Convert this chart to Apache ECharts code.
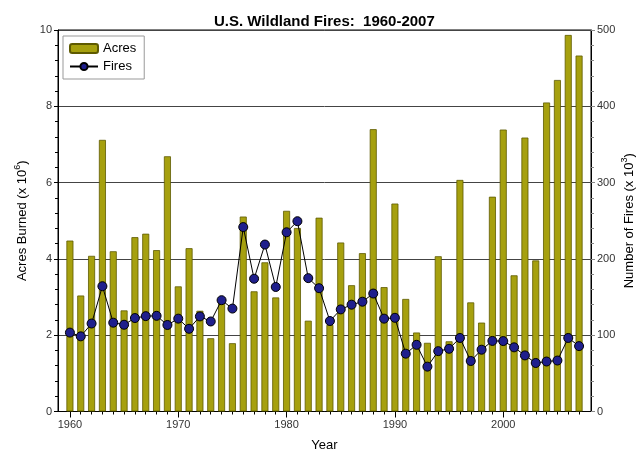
<!DOCTYPE html>
<html>
<head>
<meta charset="utf-8">
<script src="https://cdn.jsdelivr.net/npm/echarts@6/dist/echarts.min.js"></script>
<style>
  html, body { margin: 0; padding: 0; background: #fff; }
  #chart { width: 639px; height: 449px; }
</style>
</head>
<body>
<div id="chart"></div>
<script>
var years = [];
for (var y = 1960; y <= 2007; y++) years.push(y);

// acres burned, millions
var acres = [4.48, 3.04, 4.08, 7.12, 4.20, 2.65, 4.57, 4.66, 4.23, 6.69,
             3.28, 4.28, 2.64, 1.92, 2.88, 1.79, 5.11, 3.15, 3.91, 2.99,
             5.26, 4.81, 2.38, 5.08, 2.27, 4.43, 3.31, 4.15, 7.40, 3.26,
             5.45, 2.95, 2.07, 1.80, 4.07, 1.84, 6.07, 2.86, 2.33, 5.63,
             7.39, 3.57, 7.18, 3.96, 8.10, 8.69, 9.87, 9.33];

// number of fires, thousands
var fires = [103.4, 98.5, 115.3, 164.2, 116.4, 113.7, 122.5, 125.0, 125.4, 113.4,
             121.7, 108.4, 124.6, 118.0, 145.9, 134.9, 241.7, 174.0, 218.8, 163.2,
             234.9, 249.4, 174.8, 161.6, 118.6, 133.8, 140.0, 143.9, 154.6, 121.7,
             122.8, 75.8, 87.4, 58.8, 79.1, 82.2, 96.4, 66.2, 81.0, 92.5,
             92.3, 84.1, 73.5, 63.6, 65.5, 66.8, 96.4, 85.7];

var decades = [1960, 1970, 1980, 1990, 2000];

var acresData = years.map(function (yr, i) { return [yr, acres[i]]; });
var firesData = years.map(function (yr, i) { return [yr, fires[i]]; });

var font = 'Liberation Sans, Arial, sans-serif';

var option = {
    animation: false,
    textStyle: { fontFamily: font },
    title: {
        text: 'U.S. Wildland Fires:  1960-2007',
        left: 209,
        top: 9,
        textStyle: { fontSize: 15, fontWeight: 'bold', color: '#000', fontFamily: font }
    },
    legend: {
        orient: 'vertical',
        left: 63,
        top: 36,
        padding: [6, 8, 6, 6],
        itemGap: 5,
        itemWidth: 28,
        itemHeight: 9,
        backgroundColor: '#fff',
        borderColor: '#999',
        borderWidth: 1,
        borderRadius: 0,
        textStyle: { fontSize: 13, color: '#000', fontFamily: font },
        data: ['Acres', 'Fires']
    },
    grid: {
        left: 58, right: 48, top: 30, bottom: 37.5,
        outerBoundsMode: 'none',
        containLabel: false,
        show: true, borderColor: '#000', borderWidth: 1
    },
    xAxis: [{
        type: 'value',
        min: 1958.9,
        max: 2008.1,
        name: 'Year',
        nameLocation: 'middle',
        nameGap: 27,
        nameTextStyle: { fontSize: 13, color: '#000' },
        axisLine: { lineStyle: { color: '#000' } },
        axisTick: { customValues: years, length: 3, lineStyle: { color: '#000' } },
        axisLabel: {
            customValues: decades, fontSize: 11, color: '#333', margin: 8,
            formatter: function (v) { return String(v); }
        },
        splitLine: { show: false }
    }, {
        type: 'value',
        min: 1958.9,
        max: 2008.1,
        position: 'bottom',
        axisLine: { show: false },
        axisTick: { customValues: decades, length: 6, lineStyle: { color: '#000' } },
        axisLabel: { show: false },
        splitLine: { show: false }
    }],
    yAxis: [{
        type: 'value',
        min: 0,
        max: 10,
        interval: 2,
        name: '{a|Acres Burned (x 10}{s|6}{a|)}',
        nameLocation: 'middle',
        nameGap: 27,
        nameTextStyle: {
            rich: {
                a: { fontSize: 13, color: '#000', lineHeight: 18, fontFamily: font },
                s: { fontSize: 9, color: '#000', lineHeight: 18, verticalAlign: 'top', padding: [0, 0, 6, 0], fontFamily: font }
            }
        },
        axisLine: { show: true, lineStyle: { color: '#000' } },
        axisTick: { show: true, length: 4, lineStyle: { color: '#000' } },
        minorTick: { show: true, splitNumber: 5, length: 3, lineStyle: { color: '#000' } },
        axisLabel: { fontSize: 11, color: '#333', margin: 6 },
        splitLine: { show: true, lineStyle: { color: '#444', width: 1 } }
    }, {
        type: 'value',
        min: 0,
        max: 500,
        interval: 100,
        position: 'right',
        name: '{a|Number of Fires (x 10}{s|3}{a|)}',
        nameLocation: 'middle',
        nameGap: 29,
        nameMoveOverlap: false,
        nameTextStyle: {
            rich: {
                a: { fontSize: 13, color: '#000', lineHeight: 18, fontFamily: font },
                s: { fontSize: 9, color: '#000', lineHeight: 18, verticalAlign: 'top', padding: [0, 0, 6, 0], fontFamily: font }
            }
        },
        axisLine: { show: true, lineStyle: { color: '#000' } },
        axisTick: { show: true, length: 4, lineStyle: { color: '#888' } },
        minorTick: { show: true, splitNumber: 5, length: 3, lineStyle: { color: '#888' } },
        axisLabel: { fontSize: 11, color: '#333', margin: 6 },
        splitLine: { show: false }
    }],
    series: [{
        name: 'Acres',
        type: 'bar',
        xAxisIndex: 0,
        yAxisIndex: 0,
        barWidth: 7,
        itemStyle: { color: '#a6a00e', borderColor: '#5e5a00', borderWidth: 0.8 },
        data: acresData
    }, {
        name: 'Fires',
        type: 'line',
        xAxisIndex: 0,
        yAxisIndex: 1,
        symbol: 'circle',
        symbolSize: 9,
        lineStyle: { color: '#000', width: 1 },
        itemStyle: { color: '#1f1f8c', borderColor: '#000', borderWidth: 1 },
        data: firesData
    }]
};

var chart = echarts.init(document.getElementById('chart'));
chart.setOption(option);
</script>
</body>
</html>
